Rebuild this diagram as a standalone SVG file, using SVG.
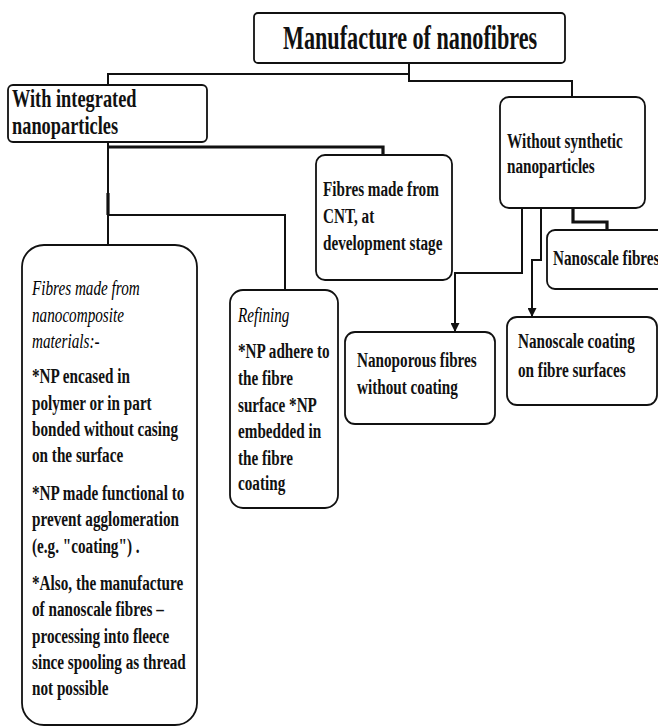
<svg xmlns="http://www.w3.org/2000/svg" width="658" height="727" viewBox="0 0 658 727">
<style>
.box{fill:#fff;stroke:#111;stroke-width:1.8}
.ln{fill:none;stroke:#111;stroke-width:2}
.thick{stroke-width:3.2}
.t{font-family:"Liberation Serif","Times New Roman",serif;font-size:20px;font-weight:bold;fill:#111}
.i{font-style:italic;font-weight:normal;fill:#000}
.big{font-size:33px}
.mid{font-size:26px}
</style>
<defs>
<marker id="arr" viewBox="0 0 10 10" refX="10" refY="5" markerWidth="9" markerHeight="9" markerUnits="userSpaceOnUse" orient="auto">
<path d="M0,0 L10,5 L0,10 z" fill="#111"/>
</marker>
</defs>
<rect width="658" height="727" fill="#fff"/>
<g id="connectors">
<polyline class="ln" points="108,85 108,74 409,74"/>
<polyline class="ln" points="409,63 409,81 572,81 572,97"/>
<polyline class="ln" points="108,142 108,245"/>
<polyline class="ln thick" points="108,147 383,147 383,155"/>
<polyline class="ln" points="108,215 285,215 285,290"/>
<polyline class="ln thick" points="108,193 108,215"/>
<polyline class="ln thick" points="573,208 573,222 607,222 607,230"/>
<polyline class="ln" points="522,209 522,273 455,273 455,332" marker-end="url(#arr)"/>
<polyline class="ln" points="541,202 541,260 532,260 532,317" marker-end="url(#arr)"/>
</g>
<g id="title">
<rect class="box" x="254" y="13" width="311" height="50" rx="4" stroke-width="2"/>
<text class="t big" transform="translate(283,0) scale(0.672,1)" x="0" y="49">Manufacture of nanofibres</text>
</g>
<g id="with-integrated">
<rect class="box" x="8" y="85" width="199" height="57" rx="5"/>
<text class="t mid" transform="translate(12,0) scale(0.706,1)"><tspan x="0" y="107">With integrated</tspan><tspan x="0" y="134">nanoparticles</tspan></text>
</g>
<g id="without-synthetic">
<rect class="box" x="500" y="97" width="145" height="111" rx="9"/>
<text class="t" transform="translate(507,0) scale(0.76,1)"><tspan x="0" y="148">Without synthetic</tspan><tspan x="0" y="173">nanoparticles</tspan></text>
</g>
<g id="cnt">
<rect class="box" x="316" y="155" width="136" height="125" rx="9"/>
<text class="t" transform="translate(323,0) scale(0.76,1)"><tspan x="0" y="196">Fibres made from</tspan><tspan x="0" y="223">CNT, at</tspan><tspan x="0" y="250">development stage</tspan></text>
</g>
<g id="nanoscale-fibres">
<rect class="box" x="547" y="230" width="130" height="59" rx="8"/>
<text class="t" transform="translate(553,0) scale(0.76,1)"><tspan x="0" y="265">Nanoscale fibres</tspan></text>
</g>
<g id="nanocomposite">
<rect class="box" x="22" y="245" width="175" height="480" rx="22"/>
<text class="t" transform="translate(32,0) scale(0.76,1)"><tspan class="i" x="0" y="295">Fibres made from</tspan><tspan class="i" x="0" y="322">nanocomposite</tspan><tspan class="i" x="0" y="348">materials:-</tspan><tspan x="0" y="383">*NP encased in</tspan><tspan x="0" y="410">polymer or in part</tspan><tspan x="0" y="436">bonded without casing</tspan><tspan x="0" y="462">on the surface</tspan><tspan x="0" y="500">*NP made functional to</tspan><tspan x="0" y="526">prevent agglomeration</tspan><tspan x="0" y="553">(e.g. "coating") .</tspan><tspan x="0" y="590">*Also, the manufacture</tspan><tspan x="0" y="616">of nanoscale fibres –</tspan><tspan x="0" y="643">processing into fleece</tspan><tspan x="0" y="669">since spooling as thread</tspan><tspan x="0" y="695">not possible</tspan></text>
</g>
<g id="refining">
<rect class="box" x="230" y="290" width="108" height="218" rx="13"/>
<text class="t" transform="translate(238,0) scale(0.76,1)"><tspan class="i" x="0" y="322">Refining</tspan><tspan x="0" y="358">*NP adhere to</tspan><tspan x="0" y="385">the fibre</tspan><tspan x="0" y="412">surface *NP</tspan><tspan x="0" y="438">embedded in</tspan><tspan x="0" y="465">the fibre</tspan><tspan x="0" y="490">coating</tspan></text>
</g>
<g id="nanoporous">
<rect class="box" x="345" y="332" width="150" height="92" rx="10"/>
<text class="t" transform="translate(357,0) scale(0.76,1)"><tspan x="0" y="367">Nanoporous fibres</tspan><tspan x="0" y="394">without coating</tspan></text>
</g>
<g id="nanoscale-coating">
<rect class="box" x="507" y="317" width="150" height="88" rx="10"/>
<text class="t" transform="translate(518,0) scale(0.76,1)"><tspan x="0" y="348">Nanoscale coating</tspan><tspan x="0" y="377">on fibre surfaces</tspan></text>
</g>
</svg>
